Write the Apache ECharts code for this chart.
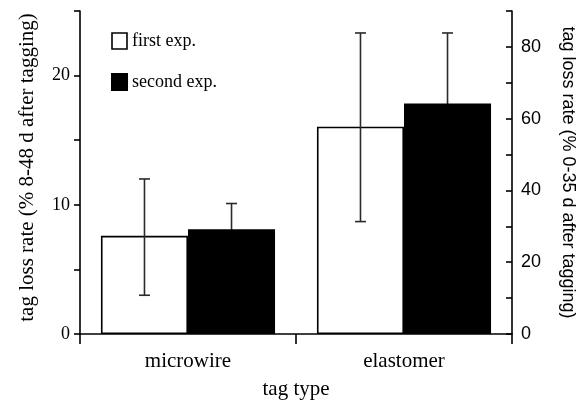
<!DOCTYPE html>
<html>
<head>
<meta charset="utf-8">
<script src="https://cdn.jsdelivr.net/npm/echarts@6/dist/echarts.min.js"></script>
<style>html,body{margin:0;padding:0;background:#fff}#c{width:587px;height:400px}</style>
</head>
<body>
<div id="c"></div>
<script>
const categories = ['microwire', 'elastomer'];
const seriesNames = ['first exp.', 'second exp.'];
const firstExp = [7.6, 16.05];
const secondExp = [8.1, 17.85];
const firstErrLow = [3.0, 8.7];
const firstErrHigh = [12.0, 23.3];
const secondErrLow = [6.1, 12.4];
const secondErrHigh = [10.1, 23.3];
const leftTicks = [0, 10, 20];
const rightTicks = [0, 20, 40, 60, 80];

const CAT_GAP = 0.194;
const serif = 'Liberation Serif';
const sans = 'Liberation Sans';

function errRender(side) {
  return function (params, api) {
    const ci = api.value(0);
    const lo = api.coord([ci, api.value(1)]);
    const hi = api.coord([ci, api.value(2)]);
    const cw = api.size([1, 0])[0];
    const bw = cw * (1 - CAT_GAP) / 2;
    const x = lo[0] + side * bw / 2;
    const cap = 5.5;
    const st = { stroke: '#2a2a2a', lineWidth: 1.6, fill: null };
    return {
      type: 'group',
      children: [
        { type: 'line', shape: { x1: x, y1: lo[1], x2: x, y2: hi[1] }, style: st },
        { type: 'line', shape: { x1: x - cap, y1: hi[1], x2: x + cap, y2: hi[1] }, style: st },
        { type: 'line', shape: { x1: x - cap, y1: lo[1], x2: x + cap, y2: lo[1] }, style: st }
      ]
    };
  };
}

const chart = echarts.init(document.getElementById('c'), null, { renderer: 'canvas' });
chart.setOption({
  animation: false,
  backgroundColor: '#fff',
  grid: { left: 80, right: 75, top: 11, bottom: 66, containLabel: false, outerBoundsMode: 'none' },
  legend: {
    orient: 'vertical',
    left: 111,
    top: 32,
    padding: 0,
    itemWidth: 15,
    itemHeight: 16,
    itemGap: 23,
    icon: 'rect',
    textStyle: { fontFamily: serif, fontSize: 18, color: '#000' },
    data: [
      { name: seriesNames[0], itemStyle: { color: '#fff', borderColor: '#000', borderWidth: 1.6 } },
      { name: seriesNames[1], itemStyle: { color: '#000' } }
    ]
  },
  xAxis: {
    type: 'category',
    data: categories,
    name: 'tag type',
    nameLocation: 'middle',
    nameGap: 45,
    nameTextStyle: { fontFamily: serif, fontSize: 21, color: '#000' },
    axisLine: { lineStyle: { color: '#000', width: 1.6 } },
    axisTick: { show: true, length: 10, lineStyle: { color: '#000', width: 1.6 } },
    axisLabel: { fontFamily: serif, fontSize: 21, color: '#000', margin: 17 },
    splitLine: { show: false }
  },
  yAxis: [
    {
      type: 'value',
      position: 'left',
      min: 0, max: 25, interval: 5,
      name: 'tag loss rate (% 8-48 d after tagging)',
      nameLocation: 'middle',
      nameGap: 42,
      nameTextStyle: { fontFamily: serif, fontSize: 21, color: '#000', padding: [0, 0, 0, 10] },
      axisLine: { show: true, lineStyle: { color: '#000', width: 1.6 } },
      axisTick: { show: true, length: 6, lineStyle: { color: '#000', width: 1.6 } },
      axisLabel: {
        fontFamily: serif, fontSize: 18, color: '#000', margin: 10,
        formatter: v => leftTicks.includes(v) ? String(v) : ''
      },
      splitLine: { show: false }
    },
    {
      type: 'value',
      position: 'right',
      min: 0, max: 90, interval: 10,
      name: 'tag loss rate (% 0-35 d after tagging)',
      nameLocation: 'middle',
      nameRotate: -90,
      nameGap: 47,
      nameTextStyle: { fontFamily: sans, fontSize: 18, color: '#000' },
      axisLine: { show: true, lineStyle: { color: '#000', width: 1.6 } },
      axisTick: { show: true, inside: true, length: 6, lineStyle: { color: '#000', width: 1.6 } },
      axisLabel: {
        fontFamily: sans, fontSize: 18, color: '#000', margin: 9,
        formatter: v => rightTicks.includes(v) ? String(v) : ''
      },
      splitLine: { show: false }
    }
  ],
  series: [
    {
      name: seriesNames[0],
      type: 'bar',
      data: firstExp,
      barGap: '0%',
      barCategoryGap: (CAT_GAP * 100) + '%',
      itemStyle: { color: '#fff', borderColor: '#000', borderWidth: 1.6 },
      z: 2
    },
    {
      name: seriesNames[1],
      type: 'bar',
      data: secondExp,
      barGap: '0%',
      barCategoryGap: (CAT_GAP * 100) + '%',
      itemStyle: { color: '#000', borderColor: '#000', borderWidth: 1.6 },
      z: 2
    },
    {
      type: 'custom',
      name: 'err1',
      renderItem: errRender(-1),
      data: categories.map((c, i) => [i, firstErrLow[i], firstErrHigh[i]]),
      encode: { x: 0, y: [1, 2] },
      z: 5
    },
    {
      type: 'custom',
      name: 'err2',
      renderItem: errRender(1),
      data: categories.map((c, i) => [i, secondErrLow[i], secondErrHigh[i]]),
      encode: { x: 0, y: [1, 2] },
      z: 1
    }
  ]
});
</script>
</body>
</html>
